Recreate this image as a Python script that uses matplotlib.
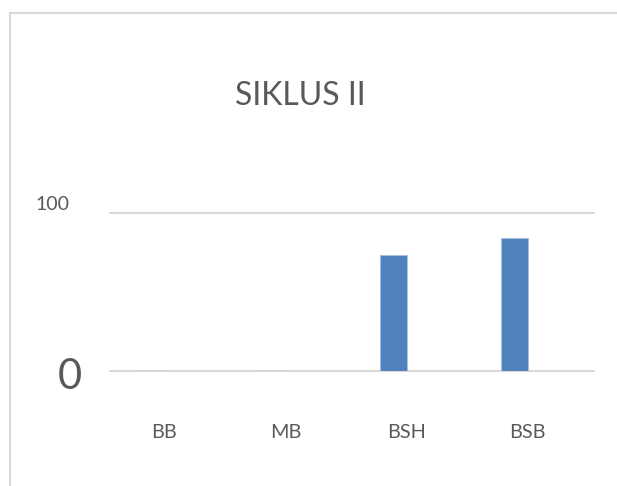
import matplotlib
matplotlib.use("Agg")
from matplotlib import pyplot as plt
from matplotlib.lines import Line2D
from matplotlib.transforms import offset_copy

categories = ["BB", "MB", "BSH", "BSB"]
values = [0, 0, 73.4, 84.3]
y_ticks = [0, 100]
title = "SIKLUS II"

W, H = 617, 486
text_color = "#595959"
grid_color = "#D9D9D9"
bar_color = "#4F81BD"

fig = plt.figure(figsize=(W / 100, H / 100), dpi=100)
fig.patch.set_facecolor("white")

# plot area in pixels: x 110..594, y (from top) 213..371
ax = fig.add_axes([110 / W, (H - 371) / H, 484 / W, 158 / H])
ax.set_facecolor("none")
for s in ax.spines.values():
    s.set_visible(False)

x = list(range(len(categories)))
ax.bar(x, values, width=0.223, color=bar_color, edgecolor="#A7C0DE", linewidth=0.8, zorder=3)

xmin = -0.343
ax.set_xlim(xmin, xmin + 4)
ax.set_ylim(0, 100)
ax.set_xticks([])
ax.set_yticks([])

for yv in y_ticks:
    ax.axhline(yv, color=grid_color, linewidth=1.5, zorder=1, clip_on=False)

# category labels (sit a bit right of the bars, as in the source)
for i, c in enumerate(categories):
    tr = offset_copy(ax.get_xaxis_transform(), fig=fig, x=9.3, y=-44, units="points")
    ax.text(i, 0, c, transform=tr, ha="center", va="center",
            fontsize=14.3, color=text_color, family=["Lato", "DejaVu Sans"])

# y labels
tr100 = offset_copy(ax.get_yaxis_transform(), fig=fig, x=-29, y=6, units="points")
ax.text(0, 100, "100", transform=tr100, ha="right", va="center",
        fontsize=14, color=text_color, family=["Lato", "DejaVu Sans"])
tr0 = offset_copy(ax.get_yaxis_transform(), fig=fig, x=-20, y=-4.5, units="points")
ax.text(0, 0, "0", transform=tr0, ha="right", va="center",
        fontsize=30, color=text_color, family=["Lato", "DejaVu Sans"])

fig.text(300 / W, 1 - 96 / H, title, ha="center", va="center",
         fontsize=23, color=text_color, family=["Lato", "DejaVu Sans"])

# chart border (cut off at right and bottom)
fig.add_artist(Line2D([10 / W, 1], [1 - 13 / H, 1 - 13 / H], color=grid_color, linewidth=1.5))
fig.add_artist(Line2D([10 / W, 10 / W], [0, 1 - 13 / H], color=grid_color, linewidth=1.5))

fig.savefig("out.png", dpi=100)
